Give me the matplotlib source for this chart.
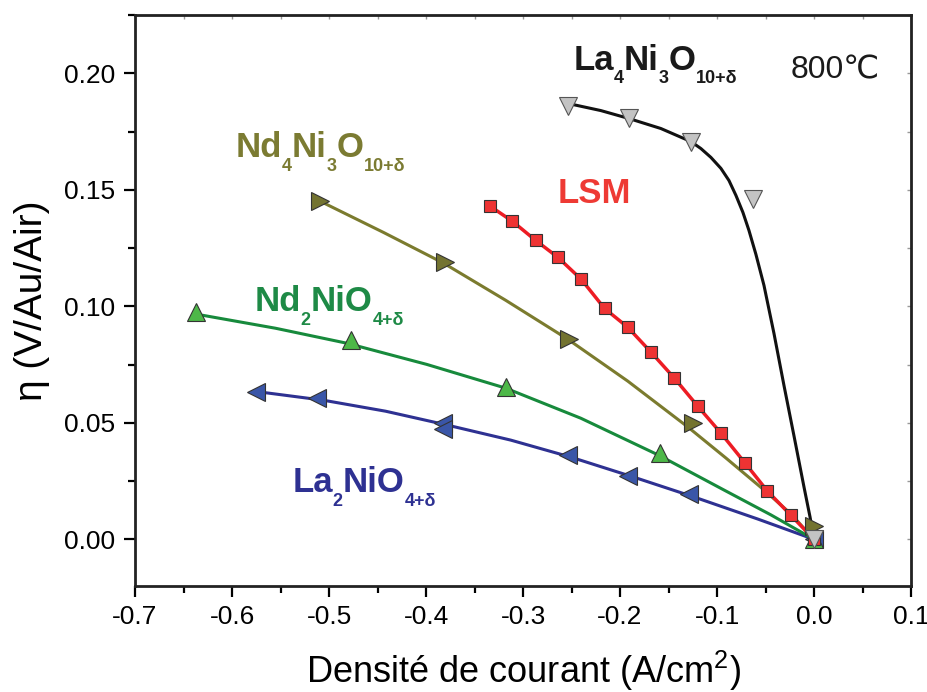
import matplotlib
matplotlib.use('Agg')
import matplotlib.pyplot as plt
from matplotlib.ticker import MultipleLocator, FormatStrFormatter
from matplotlib.transforms import offset_copy

plt.rcParams['font.family'] = ['Liberation Sans', 'DejaVu Sans']
plt.rcParams['mathtext.fontset'] = 'custom'
plt.rcParams['mathtext.rm'] = 'Liberation Sans'
plt.rcParams['mathtext.default'] = 'regular'
plt.rcParams['axes.unicode_minus'] = False

# measured points (markers)
la4_x = [-0.254, -0.191, -0.127, -0.063, 0.0]
la4_y = [0.186, 0.1806, 0.1707, 0.1459, 0.0]
nd4_x = [-0.509, -0.380, -0.253, -0.125, 0.0]
nd4_y = [0.145, 0.1189, 0.0859, 0.0499, 0.0057]
nd2_x = [-0.637, -0.477, -0.318, -0.159, 0.0]
nd2_y = [0.0974, 0.0854, 0.0653, 0.037, 0.0]
la2_x = [-0.575, -0.512, -0.383, -0.383, -0.254, -0.192, -0.129, 0.0]
la2_y = [0.0631, 0.0606, 0.0499, 0.0473, 0.0361, 0.0271, 0.0194, 0.0]
lsm_x = [-0.334, -0.311, -0.287, -0.264, -0.240, -0.216, -0.192, -0.168,
         -0.144, -0.120, -0.096, -0.071, -0.048, -0.024, 0.0]
lsm_y = [0.143, 0.1365, 0.1283, 0.121, 0.1116, 0.0991, 0.091, 0.0803,
         0.0692, 0.0572, 0.0456, 0.0327, 0.0207, 0.0104, 0.0]

# fitted curves
la4_fx = [-0.2487, -0.2198, -0.1909, -0.1579, -0.1269, -0.1166, -0.1063,
          -0.0960, -0.0877, -0.0805, -0.0733, -0.0671, -0.0599, -0.0516,
          -0.0413, -0.0310, -0.0206, -0.0103, -0.0041, 0.0]
la4_fy = [0.1866, 0.1840, 0.1806, 0.1763, 0.1707, 0.1677, 0.1639,
          0.1592, 0.1540, 0.1476, 0.1403, 0.1326, 0.1223, 0.1090,
          0.0884, 0.0661, 0.0443, 0.0224, 0.0096, 0.0]
nd4_fx = [-0.5067, -0.4438, -0.3818, -0.3179, -0.2539, -0.1920, -0.1300,
          -0.0908, -0.0516, -0.0237, 0.0]
nd4_fy = [0.1446, 0.1317, 0.1185, 0.1026, 0.0859, 0.0679, 0.0482,
          0.0349, 0.0212, 0.0109, 0.0]
nd2_fx = [-0.6295, -0.5552, -0.4809, -0.3994, -0.3179, -0.2405, -0.1600,
          -0.0929, -0.0444, 0.0]
nd2_fy = [0.0961, 0.0906, 0.0841, 0.0751, 0.0649, 0.0520, 0.0361,
          0.0212, 0.0105, 0.0]
la2_fx = [-0.5686, -0.5057, -0.4417, -0.3777, -0.3127, -0.2508, -0.1858,
          -0.1238, -0.0578, 0.0]
la2_fy = [0.0631, 0.0597, 0.0550, 0.0490, 0.0426, 0.0353, 0.0267,
          0.0182, 0.0087, 0.0]

fig = plt.figure(figsize=(9.28, 6.92), dpi=100)
ax = fig.add_axes([0.1455, 0.1532, 0.8362, 0.8251])

edge = '#333333'
# curves
ax.plot(la2_fx, la2_fy, color='#2e3192', lw=2.2, zorder=2)
ax.plot(nd2_fx, nd2_fy, color='#178a3c', lw=2.2, zorder=2)
ax.plot(nd4_fx, nd4_fy, color='#7b7b2e', lw=2.2, zorder=2)
ax.plot(lsm_x, lsm_y, color='#ed1c24', lw=2.5, zorder=2)
ax.plot(la4_fx, la4_fy, color='#111111', lw=2.2, zorder=2)
# markers
ax.plot(la2_x, la2_y, ls='none', marker='<', ms=12.5, mfc='#3a56a8', mec=edge, mew=0.8, zorder=3)
ax.plot(nd2_x, nd2_y, ls='none', marker='^', ms=12.5, mfc='#4db848', mec=edge, mew=0.8, zorder=3)
ax.plot(nd4_x, nd4_y, ls='none', marker='>', ms=12.5, mfc='#737330', mec=edge, mew=0.8, zorder=3)
ax.plot(lsm_x, lsm_y, ls='none', marker='s', ms=9, mfc='#ee3333', mec=edge, mew=0.8, zorder=3)
ax.plot(la4_x, la4_y, ls='none', marker='v', ms=12.5, mfc='#c3c3c3', mec='#555555', mew=0.8, zorder=4)

ax.set_xlim(-0.7, 0.1)
ax.set_ylim(-0.02, 0.225)
ax.xaxis.set_major_locator(MultipleLocator(0.1))
ax.xaxis.set_minor_locator(MultipleLocator(0.05))
ax.yaxis.set_major_locator(MultipleLocator(0.05))
ax.yaxis.set_minor_locator(MultipleLocator(0.025))
ax.xaxis.set_major_formatter(FormatStrFormatter('%.1f'))
ax.yaxis.set_major_formatter(FormatStrFormatter('%.2f'))
ax.tick_params(which='major', direction='out', length=8, width=1.6, labelsize=19, pad=6)
ax.tick_params(which='minor', direction='out', length=5, width=1.6)
for s in ax.spines.values():
    s.set_linewidth(2.0)
    s.set_color('#222222')

top = ax.secondary_xaxis('top')
top.xaxis.set_major_locator(MultipleLocator(0.1))
top.xaxis.set_minor_locator(MultipleLocator(0.05))
top.tick_params(which='both', direction='in', length=3, width=1, color='#999999', labeltop=False)
right = ax.secondary_yaxis('right')
right.yaxis.set_major_locator(MultipleLocator(0.05))
right.yaxis.set_minor_locator(MultipleLocator(0.025))
right.tick_params(which='both', direction='in', length=3, width=1, color='#999999', labelright=False)

ax.set_xlabel('Densité de courant (A/cm$^2$)', fontsize=26, labelpad=14)
ax.set_ylabel('η (V/Au/Air)', fontsize=28, labelpad=10)

renderer = fig.canvas.get_renderer()


def chem_label(x, y, parts, color):
    # draw a formula piece by piece, subscripts small and dropped
    dx = 0.0
    for s, sub in parts:
        tr = offset_copy(ax.transData, fig=fig, x=dx, y=-10 if sub else 0, units='points')
        t = ax.text(x, y, s, transform=tr, fontsize=13 if sub else 25,
                    fontweight='bold', color=color)
        dx += t.get_window_extent(renderer).width * 72 / fig.dpi


chem_label(-0.248, 0.2016, [('La', 0), ('4', 1), ('Ni', 0), ('3', 1), ('O', 0), ('10+δ', 1)], '#1a1a1a')
chem_label(-0.5965, 0.1639, [('Nd', 0), ('4', 1), ('Ni', 0), ('3', 1), ('O', 0), ('10+δ', 1)], '#7b7b32')
chem_label(-0.577, 0.0979, [('Nd', 0), ('2', 1), ('NiO', 0), ('4+δ', 1)], '#1e8a46')
chem_label(-0.538, 0.0203, [('La', 0), ('2', 1), ('NiO', 0), ('4+δ', 1)], '#2e3192')
ax.text(-0.264, 0.1445, 'LSM', fontsize=25, fontweight='bold', color='#ee3a34')
ax.text(-0.024, 0.1976, '800℃', fontsize=23, color='#1a1a1a')

fig.savefig('out.png', dpi=100)
